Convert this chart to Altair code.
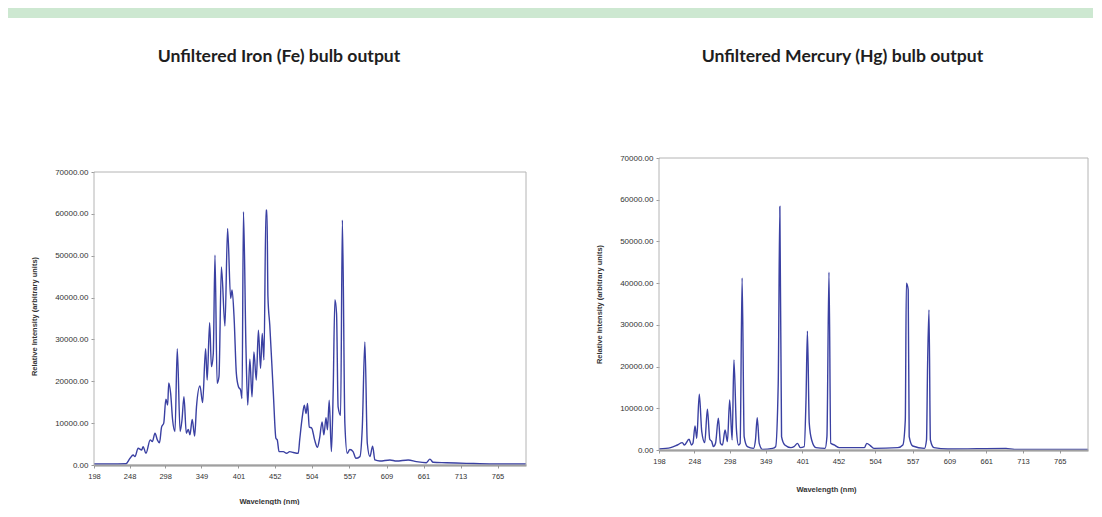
import altair as alt
import pandas as pd

# ---------------- data ----------------
fe_nm = [198, 220, 243, 248.6, 253, 255.6, 260, 265, 267, 271, 277, 280, 283.7, 287, 290, 293, 296,
         299, 301.5, 303, 305.7, 308.5, 311.8, 315, 319, 321.6, 324.4, 327.7, 330.5, 332.8, 336,
         339.4, 342, 346.9, 350.6, 354.8, 357, 360.5, 363, 365.6, 368, 371, 373.6, 377, 382,
         385.7, 390, 392, 395, 398, 401, 404, 406, 408, 411.5, 414, 417, 420, 422.7, 426, 429,
         432, 434.4, 436.8, 439.6, 441, 442.4, 445, 450, 453.6, 455.5, 458, 464, 468.6, 473, 478,
         485, 487, 491, 493.5, 496, 498, 500.5, 504, 508, 512, 515, 518.5, 521, 524, 526, 528.5,
         531.6, 534, 536.5, 538.8, 541, 544.5, 547, 550.5, 553.8, 557.6, 562, 566, 571.6, 575,
         578.6, 582, 585.7, 589.5, 592.7, 599.7, 613.8, 623, 639.5, 651, 665, 670, 674.6, 693,
         721, 759, 805]
fe_val = [250, 250, 300, 1600, 2400, 2000, 4000, 3600, 4400, 2800, 6000, 5600, 7600, 6000, 5300,
          9100, 10000, 15700, 14300, 19600, 17100, 10700, 8000, 27800, 8000, 10700, 16300, 7600,
          8500, 7200, 10900, 6900, 13900, 18900, 14900, 27800, 20300, 34000, 23500, 26600, 50100,
          19500, 21100, 47300, 33200, 56500, 39800, 41800, 34600, 21900, 18700, 17900, 15900,
          60500, 28200, 14300, 25300, 16300, 27000, 20300, 32200, 23100, 31400, 25100, 60900,
          60900, 40200, 33400, 17100, 6400, 6000, 3200, 3200, 2800, 3200, 3000, 2800, 6000, 11900,
          14300, 12300, 14700, 9100, 8800, 6000, 4200, 6400, 10300, 7200, 11300, 8400, 15500,
          3200, 17100, 39500, 36200, 13900, 11900, 58500, 9900, 2800, 3700, 3200, 1600, 2000,
          9100, 29400, 5200, 2000, 4500, 1200, 950, 1200, 950, 1200, 800, 550, 1400, 640, 550,
          400, 240, 240]

hg_nm = [198, 214.5, 224, 231, 234, 240.5, 244, 246, 249, 251.4, 255, 258.5, 262.7, 266.5, 269.8,
         272.7, 275, 278, 282, 285, 287.8, 291.5, 294.8, 298, 301.5, 304, 307.6, 310.5, 312.8,
         315.6, 318.5, 323, 331.7, 334.5, 337, 339.8, 344.5, 358.6, 363, 366.7, 369, 371.4, 376,
         384.6, 389, 394, 398, 403.5, 406, 408, 410.6, 414, 420, 433, 435.6, 438.5, 441, 446,
         453, 488.6, 492, 497, 502, 536, 543, 546.5, 548, 550.6, 552, 557, 573.6, 576.5, 578,
         580, 582, 587, 606.7, 689, 701, 805]
hg_val = [240, 560, 1200, 1760, 1200, 2560, 1200, 1600, 5760, 2800, 13360, 4400, 1760, 9760, 2560,
          2000, 800, 1600, 7600, 1600, 1200, 4800, 2000, 12000, 2400, 21600, 4800, 1200, 1600,
          41200, 3200, 800, 400, 2400, 7760, 1600, 160, 400, 800, 16000, 58400, 3200, 1200, 560,
          800, 1600, 560, 800, 12000, 28500, 6400, 2400, 560, 400, 3200, 42600, 1600, 1200, 560,
          560, 1600, 1040, 400, 560, 1200, 7200, 40000, 38400, 3200, 960, 400, 2400, 20000,
          33600, 2400, 560, 240, 400, 160, 160]

x_ticks = [198, 248, 298, 349, 401, 452, 504, 557, 609, 661, 713, 765]
y_ticks = [0, 10000, 20000, 30000, 40000, 50000, 60000, 70000]
x_range = [198, 805]
y_top = 70000

fe_title = "Unfiltered Iron (Fe) bulb output"
hg_title = "Unfiltered Mercury (Hg) bulb output"
y_label = "Relative Intensity (arbitrary units)"
x_label = "Wavelength (nm)"

LINE = "#3a40a2"
TXT = "#333333"
LABEL_FONT = "Liberation Sans"


def panel(nm, val, title, width, height, frame_h, x_title_x, x_title_y, y_title_y, t_offset):
    df = pd.DataFrame({"nm": nm, "val": val})
    y_dom_top = y_top * height / frame_h
    xs = alt.Scale(domain=x_range, nice=False, zero=False)
    ys = alt.Scale(domain=[0, y_dom_top], nice=False, zero=True)
    line = alt.Chart(df).mark_line(color=LINE, strokeWidth=1.4, interpolate="monotone", clip=True).encode(
        x=alt.X("nm:Q", scale=xs,
                axis=alt.Axis(values=x_ticks, tickCount=len(x_ticks), format="d", title=x_label,
                              grid=False, domainColor="#8c8c8c", domainWidth=2, tickColor="#9a9a9a",
                              tickSize=3, labelFont=LABEL_FONT, labelFontSize=7.5, labelColor=TXT,
                              labelPadding=4, labelFlush=False, labelOverlap=False,
                              titleFont=LABEL_FONT, titleFontSize=7.5, titleFontWeight="bold",
                              titleColor=TXT, titleX=x_title_x, titleY=x_title_y,
                              titleAlign="center", titleBaseline="middle")),
        y=alt.Y("val:Q", scale=ys,
                axis=alt.Axis(values=y_ticks, tickCount=len(y_ticks), format=".2f", title=y_label,
                              grid=False, domain=False, tickColor="#9a9a9a", tickSize=3,
                              labelOverlap=False, labelFont=LABEL_FONT, labelFontSize=8,
                              labelColor=TXT, labelPadding=3,
                              titleFont=LABEL_FONT, titleFontSize=7.5, titleFontWeight="bold",
                              titleColor=TXT, titleX=-60, titleY=y_title_y,
                              titleAlign="center", titleBaseline="middle")),
    )
    frame = alt.Chart(pd.DataFrame({"k": [0]})).mark_rect(
        fillOpacity=0, stroke="#b4b4b4", strokeWidth=1
    ).encode(
        x=alt.datum(x_range[0]), x2=alt.datum(x_range[1]),
        y=alt.datum(0), y2=alt.datum(y_top),
    )
    return alt.layer(line, frame).properties(
        width=width, height=height,
        title=alt.TitleParams(title, font="Lato", fontSize=17.6, fontWeight="bold", color="#1e1e1e",
                              anchor="middle", frame="group", dx=-31, offset=t_offset),
    )


fe = panel(fe_nm, fe_val, fe_title, 432, 307, 293, 175, 36, 158, 92)
hg = panel(hg_nm, hg_val, hg_title, 429, 292, 292, 167, 39, 146, 88)

row = alt.hconcat(fe, hg, spacing=68)

strip = alt.Chart(pd.DataFrame({"k": [0]})).mark_rect(color="#cde8d1").encode(
    x=alt.value(-86), x2=alt.value(999), y=alt.value(0), y2=alt.value(10)
).properties(width=1, height=10)

chart = alt.vconcat(strip, row, spacing=30).properties(
    padding={"left": 0, "top": 0, "right": 0, "bottom": 0}
).configure(background="white").configure_view(stroke=None).configure_axis(labelOverlap=False)

chart.save("out.html", embed_options={"renderer": "svg", "actions": False})
